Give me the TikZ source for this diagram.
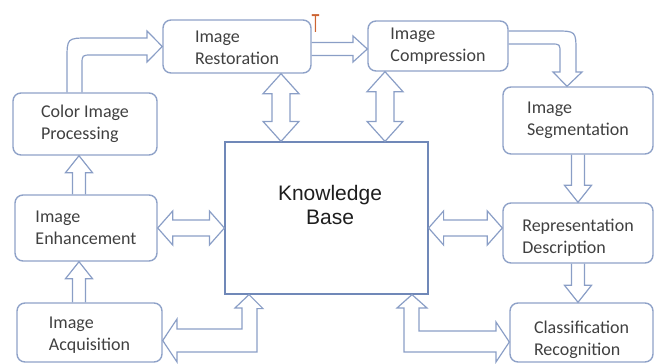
\documentclass[tikz,border=0pt]{standalone}
\usepackage{fontspec}
\usepackage{graphicx}
\setmainfont{Carlito}
\newfontfamily\kbfont{Liberation Sans}
\usetikzlibrary{calc}

\definecolor{boxline}{RGB}{143,162,200}
\definecolor{arrline}{RGB}{138,158,198}
\definecolor{kbline}{RGB}{112,136,184}
\definecolor{txt}{RGB}{64,64,64}
\definecolor{kbtxt}{RGB}{30,30,30}
\definecolor{cursor}{RGB}{205,100,50}

\tikzset{
  stage/.style={draw=boxline, line width=1.4pt, rounded corners=8pt, align=left,
    text=txt, font=\fontsize{18}{22}\selectfont, inner sep=0pt},
  blk/.style={draw=arrline, line width=1.2pt, line join=miter},
}

% two lines of text, drawn lower than the box centre
\newcommand{\lowtext}[2]{% #1 = shift, #2 = lines
  \raisebox{-#1}[\height][\depth]{\begin{tabular}{@{}l@{}}#2\end{tabular}}}
% double block arrow between two nodes, one above the other
\newcommand{\updown}[3]{% #1 = x, #2 = upper node, #3 = lower node
  \draw[blk] (#1,0 |- #2.south) -- ++(18,20) -- ++(-9,0) -- ($(#1,0 |- #3.north)+(9,-20)$)
    -- ++(9,0) -- (#1,0 |- #3.north) -- ++(-18,-20) -- ++(9,0)
    -- ($(#1,0 |- #2.south)+(-9,20)$) -- ++(-9,0) -- cycle;}
% double block arrow between two nodes side by side
\newcommand{\leftright}[3]{% #1 = y, #2 = left node, #3 = right node
  \draw[blk] (#2.east |- 0,#1) -- ++(15,-17) -- ++(0,9) -- ($(#3.west |- 0,#1)+(-15,-8)$)
    -- ++(0,-9) -- (#3.west |- 0,#1) -- ++(-15,17) -- ++(0,-9)
    -- ($(#2.east |- 0,#1)+(15,8)$) -- ++(0,9) -- cycle;}
% single vertical block arrow from one box edge to another
\newcommand{\vone}[3]{% #1 = x, #2 = start anchor, #3 = tip anchor
  \coordinate (a) at (#1,0 |- #2);
  \coordinate (b) at (#1,0 |- #3);
  \coordinate (h) at ($(b)!17pt!(a)$);
  \draw[blk] ($(a)+(-6.5,0)$) -- ($(h)+(-6.5,0)$) -- ($(h)+(-13.5,0)$) -- (b)
    -- ($(h)+(13.5,0)$) -- ($(h)+(6.5,0)$) -- ($(a)+(6.5,0)$);}

\begin{document}
\begin{tikzpicture}[x=1pt,y=-1pt]
\useasboundingbox (0,0) rectangle (659,364);

% stages
\node[stage, minimum width=148pt, minimum height=53pt] (rest) at (237,46.5) {\lowtext{3pt}{Image\\Restoration}};
\node[stage, minimum width=140pt, minimum height=50pt] (comp) at (438,46) {Image\\Compression};
\node[stage, minimum width=144pt, minimum height=62pt] (cip) at (85,124) {Color Image\\Processing};
\node[stage, minimum width=150pt, minimum height=67pt] (seg) at (578,120.5) {Image\\Segmentation};
\node[stage, minimum width=142pt, minimum height=66pt] (enh) at (86,228) {Image\\Enhancement};
\node[stage, minimum width=150pt, minimum height=60pt] (rep) at (578,233) {\lowtext{5pt}{Representation\\Description}};
\node[stage, minimum width=145pt, minimum height=59pt] (acq) at (89.5,332.5) {\lowtext{3pt}{Image\\Acquisition}};
\node[stage, minimum width=143pt, minimum height=59pt] (cls) at (581.5,332.5) {\lowtext{8pt}{Classification\\Recognition}};

% knowledge base
\node[draw=kbline, line width=1.2pt, minimum width=203pt, minimum height=152pt, inner sep=0pt] (kb) at (326.5,218) {};
\node[font=\kbfont\fontsize{21}{24}\selectfont, align=center, text=kbtxt] (kbtext) at (330,205) {Knowledge\\Base};

\node[text=cursor, font=\kbfont\fontsize{26}{26}\selectfont, inner sep=0pt, anchor=north] (cur) at (315.5,14) {\scalebox{0.5}[1]{T}};

% flow
\draw[blk] (67,0 |- cip.north) -- (67,60) .. controls (67,38) .. (89,38) -- (147,38) -- (147,31)
  -- (rest.west |- 0,46.5) -- (147,62) -- (147,55) -- (92,55) .. controls (82,55) .. (82,65)
  -- (82,0 |- cip.north);
\draw[blk] (rest.east |- 0,42.5) -- (353,42.5) -- (353,36) -- (comp.west |- 0,49)
  -- (353,62) -- (353,55.5) -- (rest.east |- 0,55.5);
\draw[blk] (comp.east |- 0,31) -- (555,31) .. controls (576,31) .. (576,52) -- (576,72) -- (582,72)
  -- (567,0 |- seg.north) -- (553,72) -- (560,72) -- (560,53) .. controls (560,44) .. (551,44)
  -- (comp.east |- 0,44);
\vone{79}{enh.north}{cip.south}
\vone{79}{acq.north}{enh.south}
\vone{578}{seg.south}{rep.north}
\vone{578}{rep.south}{cls.north}

% links to the knowledge base
\updown{281}{rest}{kb}
\updown{385}{comp}{kb}
\leftright{228}{enh}{kb}
\leftright{228}{kb}{rep}
\draw[blk] (249,0 |- kb.south) -- ++(14,14) -- ++(-6,0) -- (257,352) -- (177,352) -- (177,362)
  -- (acq.east |- 0,340.5) -- (177,319) -- (177,329) -- (242,329) -- (242,308) -- (235,308) -- cycle;
\draw[blk] (412,0 |- kb.south) -- (427,308) -- (419,308) -- (419,331) -- (496,331) -- (496,322)
  -- (cls.west |- 0,342) -- (496,362) -- (496,352) -- (404,352) -- (404,308) -- (397,308) -- cycle;
\end{tikzpicture}
\end{document}
